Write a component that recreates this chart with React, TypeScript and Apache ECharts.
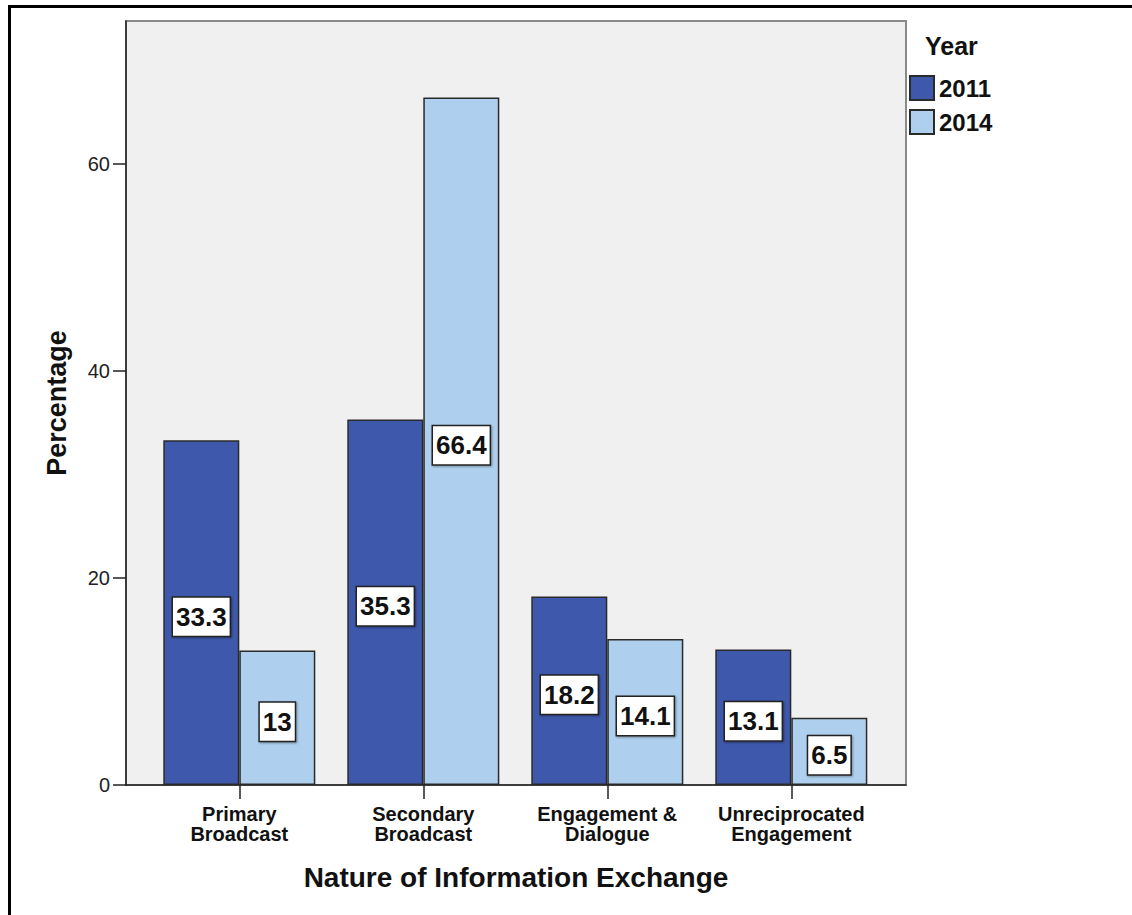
import React, { useEffect, useRef } from "react";
import * as echarts from "echarts";

const categories = ["Primary\nBroadcast", "Secondary\nBroadcast", "Engagement &\nDialogue", "Unreciprocated\nEngagement"];
const values2011 = [33.3, 35.3, 18.2, 13.1];
const values2014 = [13, 66.4, 14.1, 6.5];
const seriesNames = ["2011", "2014"];
const yTicks = { min: 0, max: 73.8, interval: 20 };

const labelStyle = {
  show: true,
  position: "inside" as const,
  offset: [0, 4],
  color: "#111",
  fontFamily: '"Liberation Sans", Arial, sans-serif',
  fontWeight: "bold" as const,
  fontSize: 26,
  lineHeight: 30,
  backgroundColor: "#ffffff",
  borderColor: "#222",
  borderWidth: 1.5,
  padding: [4, 3, 4, 3],
  shadowColor: "rgba(0,0,0,0.35)",
  shadowBlur: 2,
  shadowOffsetX: 1,
  shadowOffsetY: 1,
};

export default function App() {
  const ref = useRef<HTMLDivElement>(null);
  useEffect(() => {
    if (!ref.current) return;
    const chart = echarts.init(ref.current, undefined, { renderer: "svg" });
    const font = '"Liberation Sans", Arial, sans-serif';
    chart.setOption({
      animation: false,
      backgroundColor: "#ffffff",
      textStyle: { fontFamily: font },
      grid: [
        { left: 126, top: 21, width: 780, height: 764, show: true, backgroundColor: "#f0f0f0", borderColor: "#8a8a8a", borderWidth: 2 },
        { left: 147.3, top: 21, width: 736, height: 764 },
      ],
      legend: {
        orient: "vertical",
        left: 909,
        top: 75,
        padding: 0,
        itemWidth: 24,
        itemHeight: 24,
        itemGap: 8,
        icon: "rect",
        data: seriesNames,
        textStyle: { fontSize: 24, fontWeight: "bold", color: "#111", fontFamily: font },
      },
      xAxis: [
        {
          type: "value",
          gridIndex: 0,
          min: 0,
          max: 1,
          axisLine: { show: true, lineStyle: { color: "#222", width: 1.5 } },
          axisTick: { show: false },
          axisLabel: { show: false },
          splitLine: { show: false },
        },
        {
          type: "category",
          gridIndex: 1,
          data: categories,
          axisLine: { show: false },
          axisTick: { show: true, alignWithLabel: true, length: 14, lineStyle: { color: "#222", width: 1.5 } },
          axisLabel: { fontSize: 20, fontWeight: "bold", color: "#111", lineHeight: 20, margin: 19, interval: 0, fontFamily: font },
        },
      ],
      yAxis: [
        {
          type: "value",
          gridIndex: 0,
          min: yTicks.min,
          max: yTicks.max,
          interval: yTicks.interval,
          axisLine: { show: true, lineStyle: { color: "#222", width: 1.5 } },
          axisTick: { show: true, length: 13, lineStyle: { color: "#222", width: 1.5 } },
          axisLabel: { fontSize: 20, color: "#222", margin: 16, fontFamily: font, showMaxLabel: false },
          splitLine: { show: false },
        },
        {
          type: "value",
          gridIndex: 1,
          min: yTicks.min,
          max: yTicks.max,
          show: false,
          splitLine: { show: false },
        },
      ],
      series: [
        {
          name: seriesNames[0],
          type: "bar",
          xAxisIndex: 1,
          yAxisIndex: 1,
          data: values2011,
          barWidth: 76,
          barGap: "0%",
          itemStyle: { color: "#3e58ac", borderColor: "#2a2a2a", borderWidth: 1.5 },
          label: labelStyle,
        },
        {
          name: seriesNames[1],
          type: "bar",
          xAxisIndex: 1,
          yAxisIndex: 1,
          data: values2014,
          barWidth: 76,
          barGap: "0%",
          itemStyle: { color: "#aed0ee", borderColor: "#2a2a2a", borderWidth: 1.5 },
          label: labelStyle,
        },
      ],
      graphic: [
        {
          type: "rect",
          shape: { x: 9.5, y: 6.5, width: 1300, height: 1100 },
          style: { fill: "none", stroke: "#000", lineWidth: 3 },
          silent: true,
        },
        {
          type: "text",
          x: 925,
          y: 46,
          style: { text: "Year", font: `bold 25px ${font}`, fill: "#111", textAlign: "left", textVerticalAlign: "middle" },
        },
        {
          type: "text",
          x: 57,
          y: 403,
          rotation: Math.PI / 2,
          style: { text: "Percentage", font: `bold 27px ${font}`, fill: "#111", textAlign: "center", textVerticalAlign: "middle" },
        },
        {
          type: "text",
          x: 516,
          y: 877,
          style: { text: "Nature of Information Exchange", font: `bold 28px ${font}`, fill: "#111", textAlign: "center", textVerticalAlign: "middle" },
        },
      ],
    });
    return () => chart.dispose();
  }, []);
  return <div ref={ref} style={{ position: "absolute", left: 0, top: 0, width: 1132, height: 915 }} />;
}
